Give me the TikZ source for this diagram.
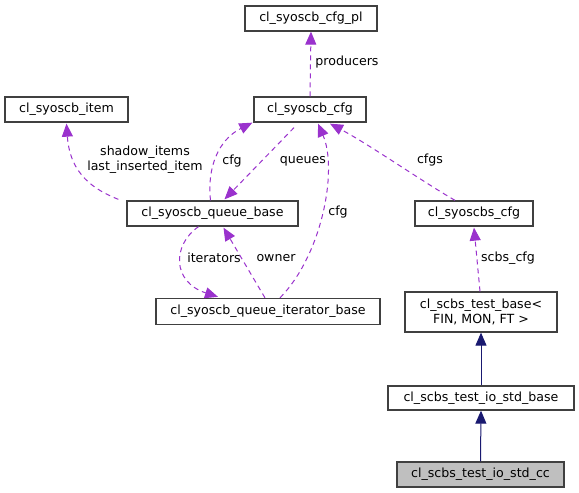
\documentclass[tikz,border=0pt]{standalone}
\usepackage{fontspec}
\setmainfont{DejaVu Sans}
\usetikzlibrary{arrows.meta,calc}
\definecolor{edgepurple}{HTML}{9A32CD}
\definecolor{edgenavy}{HTML}{191970}
\definecolor{boxgray}{HTML}{BFBFBF}
\begin{document}
\begin{tikzpicture}[x=1pt,y=-1pt,
  font=\fontsize{12.6}{15}\selectfont,
  cls/.style={draw=black!75,line width=1.3pt,fill=white,inner sep=0pt,align=center},
  usage/.style={draw=edgepurple,line width=1pt,dash pattern=on 5pt off 4pt,
    -{Triangle[length=13pt,width=11pt,fill=edgepurple]}},
  inherit/.style={draw=edgenavy,line width=1pt,
    -{Triangle[length=13pt,width=11pt,fill=edgenavy]}},
  lbl/.style={inner sep=0pt,align=center}]
\useasboundingbox[fill=white] (0,0) rectangle (579,493);

\node[cls,minimum width=132pt,minimum height=25pt] (cfgpl) at (311,18.5) {cl\_syoscb\_cfg\_pl};
\node[cls,minimum width=123pt,minimum height=25pt] (item) at (66.5,109.5) {cl\_syoscb\_item};
\node[cls,minimum width=112pt,minimum height=25pt] (cfg) at (310,109.5) {cl\_syoscb\_cfg};
\node[cls,minimum width=171pt,minimum height=25pt] (qbase) at (212.5,213.5) {cl\_syoscb\_queue\_base};
\node[cls,minimum width=224pt,minimum height=26pt] (iter) at (268,311.5) {cl\_syoscb\_queue\_iterator\_base};
\node[cls,minimum width=118pt,minimum height=25pt] (scbscfg) at (474,213.5) {cl\_syoscbs\_cfg};
\node[cls,minimum width=152pt,minimum height=40pt] (tbase) at (481,312) {cl\_scbs\_test\_base<\\ FIN, MON, FT >};
\node[cls,minimum width=186pt,minimum height=24pt] (iobase) at (481,398) {cl\_scbs\_test\_io\_std\_base};
\node[cls,fill=boxgray,minimum width=167pt,minimum height=25pt] (cc) at (480.5,474.5) {cl\_scbs\_test\_io\_std\_cc};

% edges
\draw[usage] (cfg.north) -- (cfgpl.south);
\draw[usage] ($(qbase.north west)+(-8,-1)$) .. controls (95,190) and (70,175) .. ($(item.south)+(0,1)$);
\draw[usage] ($(qbase.north)+(-2,0)$) .. controls (207,168) and (218,140) .. ($(cfg.south west)+(-1,0)$);
\draw[usage] ($(cfg.south)+(-16,5)$) -- ($(qbase.north)+(12,-1)$);
\draw[usage] ($(iter.north)+(12,0)$) .. controls (322,255) and (338,170) .. ($(cfg.south)+(8,1)$);
\draw[usage] ($(scbscfg.north)+(-19,0)$) .. controls (420,180) and (370,145) .. ($(cfg.south)+(20,1)$);
\draw[usage] ($(qbase.south)+(-14,0)$) .. controls (172,245) and (172,282) .. ($(iter.north)+(-50,-1)$);
\draw[usage] ($(iter.north)+(-3,0)$) -- ($(qbase.south)+(11,1)$);
\draw[usage] ($(tbase.north)+(-1,0)$) -- ($(scbscfg.south)+(0,1)$);
\draw[inherit] (iobase.north) -- (tbase.south);
\draw[inherit] (cc.north) -- (iobase.south);

% labels
\node[lbl] (lprod) at (347,62) {producers};
\node[lbl] (litem) at (145,160) {shadow\_items\\last\_inserted\_item};
\node[lbl] (lcfg1) at (232,161) {cfg};
\node[lbl] (lqueues) at (303,161) {queues};
\node[lbl] (lcfg2) at (338,212) {cfg};
\node[lbl] (lcfgs) at (430,160) {cfgs};
\node[lbl] (liter) at (214,258) {iterators};
\node[lbl] (lowner) at (276,258) {owner};
\node[lbl] (lscbs) at (508,258) {scbs\_cfg};
\end{tikzpicture}
\end{document}
